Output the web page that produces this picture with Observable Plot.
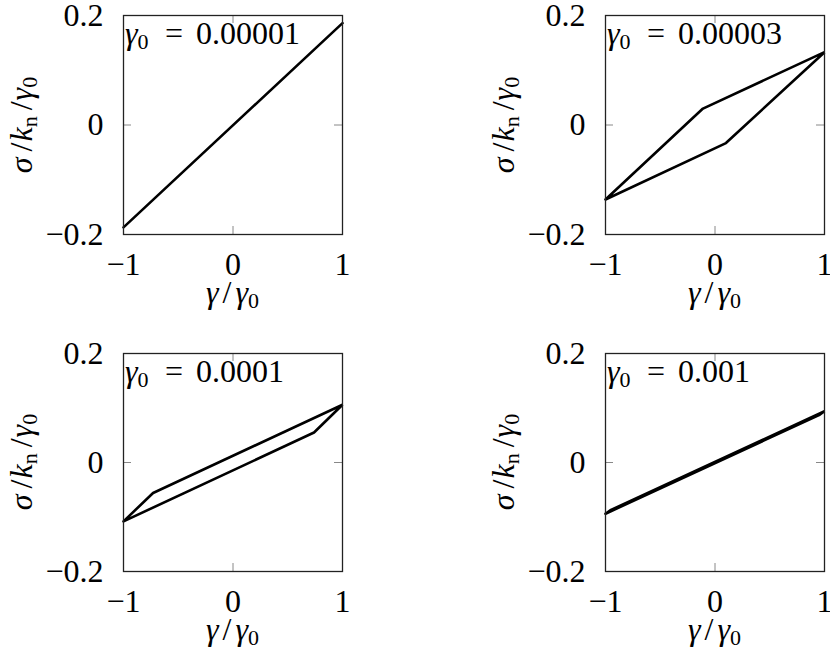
<!DOCTYPE html>
<html>
<head>
<meta charset="utf-8">
<script src="https://cdn.jsdelivr.net/npm/d3@7"></script>
<script src="https://cdn.jsdelivr.net/npm/@observablehq/plot@0.6"></script>
<style>
  html, body { margin: 0; padding: 0; background: #fff; }
  #wrap { position: relative; width: 830px; height: 651px; overflow: hidden; }
  #chart { display: grid; grid-template-columns: 415px 415px; grid-template-rows: 320px 331px; width: 830px; height: 651px; }
  #chart svg { display: block; overflow: visible; }
  .ylab { position: absolute; font-family: 'Liberation Serif', serif; font-size: 32px; line-height: 32px;
          white-space: nowrap; transform: translate(-50%, -50%) rotate(-90deg); color: #000; }
  .ylab i { font-style: italic; }
  .ylab .sub { font-size: 22px; position: relative; top: 5px; }
  .ylab .sl { margin: 0 1px 0 6px; }
</style>
</head>
<body>
<div id="wrap"><div id="chart"></div></div>
<script>
// ---- data ----
const xTicks = [-1, 0, 1];
const yTicks = [-0.2, 0, 0.2];
const gamma0Values = ["0.00001", "0.00003", "0.0001", "0.001"];

// panel 1: gamma0 = 0.00001
const p1X = [-1, 1];
const p1Y = [-0.187, 0.186];
// panel 2: gamma0 = 0.00003
const p2X = [-1, -0.11, 1, 0.10, -1];
const p2Y = [-0.136, 0.030, 0.133, -0.033, -0.136];
// panel 3: gamma0 = 0.0001
const p3X = [-1, -0.73, 1, 0.74, -1];
const p3Y = [-0.108, -0.056, 0.106, 0.055, -0.108];
// panel 4: gamma0 = 0.001
const p4X = [-1, -0.95, 1, 0.95, -1];
const p4Y = [-0.094, -0.087, 0.094, 0.087, -0.094];

const seriesX = [p1X, p2X, p3X, p4X];
const seriesY = [p1Y, p2Y, p3Y, p4Y];

// ---- layout ----
const FONT = "'Liberation Serif', serif";
const FS = 32;
const colLeft = [0, 415], rowTop = [0, 320];
const colW = 415, mLeft = [123, 190], mRight = [73, 6];
const rowH = [320, 331], mTop = [15, 33], mBottom = [86, 80];

const fmt = d => d < 0 ? "\u2212" + Math.abs(d) : String(d);

function rich(textSel, parts) {
  let shifted = false;
  parts.forEach(p => {
    const t = textSel.append("tspan").text(p.t);
    if (p.it) t.attr("font-style", "italic");
    let dy = 0;
    if (p.sub) { t.attr("font-size", Math.round(FS * 0.7)); if (!shifted) { dy = 5; shifted = true; } }
    else if (shifted) { dy = -5; shifted = false; }
    if (dy) t.attr("dy", dy);
    if (p.dx) t.attr("dx", p.dx);
    if (p.x != null) t.attr("x", p.x);
  });
}

const chart = document.getElementById("chart");
const wrap = document.getElementById("wrap");

for (let k = 0; k < 4; k++) {
  const col = k % 2, row = Math.floor(k / 2);
  const innerW = colW - mLeft[col] - mRight[col];
  const innerH = rowH[row] - mTop[row] - mBottom[row];
  const pts = seriesX[k].map((x, i) => ({x, y: seriesY[k][i]}));

  const svg = Plot.plot({
    width: colW,
    height: rowH[row],
    marginLeft: mLeft[col],
    marginRight: mRight[col],
    marginTop: mTop[row],
    marginBottom: mBottom[row],
    x: {domain: [-1, 1], axis: null},
    y: {domain: [-0.2, 0.2], axis: null},
    marks: [
      // inward ticks on all four sides
      Plot.ruleX(xTicks, {insetTop: innerH - 8, stroke: "#888", strokeWidth: 1}),
      Plot.ruleX(xTicks, {insetBottom: innerH - 8, stroke: "#888", strokeWidth: 1}),
      Plot.ruleY(yTicks, {insetRight: innerW - 8, stroke: "#888", strokeWidth: 1}),
      Plot.ruleY(yTicks, {insetLeft: innerW - 8, stroke: "#888", strokeWidth: 1}),
      Plot.axisX(xTicks, {anchor: "bottom", tickSize: 0, tickPadding: 18, tickFormat: fmt, label: null, fontSize: FS}),
      Plot.axisY(yTicks, {anchor: "left", tickSize: 0, tickPadding: 20, tickFormat: fmt, label: null, fontSize: FS}),
      Plot.line(pts, {x: "x", y: "y", stroke: "#000", strokeWidth: 2.6, strokeLinejoin: "miter"}),
      Plot.frame({stroke: "#222", strokeWidth: 1.3})
    ]
  });
  chart.appendChild(svg);

  const s = d3.select(svg);
  const frameBottom = mTop[row] + innerH;

  // x label: γ/γ0
  const xl = s.append("text")
    .attr("x", mLeft[col] + innerW / 2)
    .attr("y", frameBottom + 69)
    .attr("text-anchor", "middle")
    .attr("font-size", FS);
  rich(xl, [{t: "γ", it: true}, {t: "/", dx: 4}, {t: "γ", it: true, dx: 4}, {t: "0", sub: true}]);

  // annotation: γ0 = value
  const an = s.append("text")
    .attr("x", mLeft[col] + 2)
    .attr("y", mTop[row] + 29)
    .attr("text-anchor", "start")
    .attr("font-size", FS);
  rich(an, [{t: "γ", it: true}, {t: "0", sub: true}, {t: "=", x: mLeft[col] + 42}, {t: gamma0Values[k], x: mLeft[col] + 73}]);

  // serif face on every text node
  s.attr("font-family", FONT).style("font-family", FONT, "important");
  s.selectAll("text, tspan, g").attr("font-family", FONT).style("font-family", FONT, "important");

  // y label: σ/kn/γ0 (rotated HTML text)
  const yl = document.createElement("div");
  yl.className = "ylab";
  yl.innerHTML = '<i>σ</i><span class="sl">/</span><i>k</i><span class="sub">n</span><span class="sl">/</span><i>γ</i><span class="sub">0</span>';
  yl.style.left = (colLeft[col] + mLeft[col] - 100) + "px";
  yl.style.top = (rowTop[row] + mTop[row] + innerH / 2) + "px";
  wrap.appendChild(yl);
}
</script>
</body>
</html>
